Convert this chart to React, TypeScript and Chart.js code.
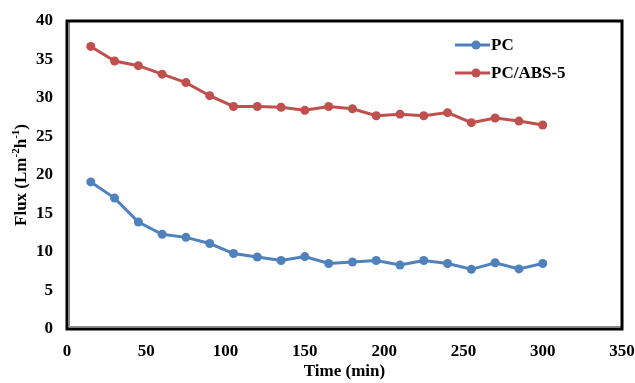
import React, { useEffect, useRef } from "react";
import { Chart, registerables } from "chart.js";

Chart.register(...registerables);

const times = [15, 30, 45, 60, 75, 90, 105, 120, 135, 150, 165, 180, 195, 210, 225, 240, 255, 270, 285, 300];
const pcFlux = [19.1, 17.0, 13.9, 12.3, 11.9, 11.1, 9.8, 9.35, 8.9, 9.4, 8.5, 8.7, 8.9, 8.3, 8.9, 8.5, 7.75, 8.6, 7.8, 8.5];
const pcAbsFlux = [36.7, 34.8, 34.2, 33.1, 32.0, 30.3, 28.9, 28.9, 28.8, 28.4, 28.9, 28.6, 27.7, 27.9, 27.7, 28.1, 26.8, 27.4, 27.0, 26.5];
const seriesNames = ["PC", "PC/ABS-5"];
const seriesColors = ["#4F81BD", "#C0504D"];
const xTitle = "Time (min)";
const yTitleParts = [
  { t: "Flux (Lm", sup: false },
  { t: "-2", sup: true },
  { t: "h", sup: false },
  { t: "-1", sup: true },
  { t: ")", sup: false },
];

const FONT = "'Liberation Serif', 'Times New Roman', serif";

const framePlugin = {
  id: "framePlugin",
  afterDraw(chart: any) {
    const { ctx, chartArea } = chart;
    const { left, top, right, bottom } = chartArea;
    ctx.save();
    // gray inner double line (left & bottom)
    ctx.strokeStyle = "#8a8a8a";
    ctx.lineWidth = 1;
    ctx.beginPath();
    ctx.moveTo(left + 2.5, top + 1);
    ctx.lineTo(left + 2.5, bottom - 2.5);
    ctx.lineTo(right - 1, bottom - 2.5);
    ctx.stroke();
    ctx.strokeStyle = "#000";
    ctx.lineWidth = 3;
    ctx.strokeRect(left, top, right - left, bottom - top);
    ctx.restore();

    // y title with superscripts
    ctx.save();
    const cx = left - 45;
    const cy = (top + bottom) / 2;
    ctx.translate(cx, cy);
    ctx.rotate(-Math.PI / 2);
    const mainFont = `bold 17px ${FONT}`;
    const supFont = `bold 11px ${FONT}`;
    let total = 0;
    const widths = yTitleParts.map((p) => {
      ctx.font = p.sup ? supFont : mainFont;
      const w = ctx.measureText(p.t).width;
      total += w;
      return w;
    });
    let x = -total / 2;
    ctx.fillStyle = "#000";
    ctx.textBaseline = "middle";
    ctx.textAlign = "left";
    yTitleParts.forEach((p, i) => {
      ctx.font = p.sup ? supFont : mainFont;
      ctx.fillText(p.t, x, p.sup ? -6 : 0);
      x += widths[i];
    });
    ctx.restore();

    // legend inside plot area
    ctx.save();
    const lx = right - 167;
    const ly = top + 24;
    chart.data.datasets.forEach((ds: any, i: number) => {
      const y = ly + i * 28;
      ctx.strokeStyle = ds.borderColor;
      ctx.lineWidth = 3;
      ctx.beginPath();
      ctx.moveTo(lx, y);
      ctx.lineTo(lx + 35, y);
      ctx.stroke();
      ctx.fillStyle = ds.backgroundColor;
      ctx.beginPath();
      ctx.arc(lx + 21, y, 4.5, 0, Math.PI * 2);
      ctx.fill();
      ctx.fillStyle = "#000";
      ctx.font = `bold 17px ${FONT}`;
      ctx.textBaseline = "middle";
      ctx.textAlign = "left";
      ctx.fillText(ds.label, lx + 36, y + 1);
    });
    ctx.restore();
  },
};

export default function App() {
  const ref = useRef<HTMLCanvasElement | null>(null);
  useEffect(() => {
    if (!ref.current) return;
    const chart = new Chart(ref.current, {
      type: "line",
      data: {
        datasets: [
          {
            label: seriesNames[0],
            data: times.map((t, i) => ({ x: t, y: pcFlux[i] })),
            borderColor: seriesColors[0],
            backgroundColor: seriesColors[0],
            borderWidth: 3,
            pointRadius: 4.5,
            pointBorderWidth: 0,
            pointBackgroundColor: seriesColors[0],
            tension: 0,
          },
          {
            label: seriesNames[1],
            data: times.map((t, i) => ({ x: t, y: pcAbsFlux[i] })),
            borderColor: seriesColors[1],
            backgroundColor: seriesColors[1],
            borderWidth: 3,
            pointRadius: 4.5,
            pointBorderWidth: 0,
            pointBackgroundColor: seriesColors[1],
            tension: 0,
          },
        ],
      },
      options: {
        animation: false,
        responsive: false,
        maintainAspectRatio: false,
        layout: { padding: { left: 0, top: 21, right: 13, bottom: 0 } },
        plugins: {
          legend: { display: false },
          tooltip: { enabled: false },
        },
        scales: {
          x: {
            type: "linear",
            min: 0,
            max: 350,
            grid: { display: false, drawTicks: false },
            border: { display: false },
            ticks: {
              stepSize: 50,
              padding: 12,
              color: "#000",
              font: { family: FONT, size: 17, weight: "bold" },
            },
            title: {
              display: true,
              text: xTitle,
              color: "#000",
              font: { family: FONT, size: 17, weight: "bold" },
              padding: { top: 0, bottom: 1 },
            },
            afterFit: (s: any) => {
              s.height = 54;
              s.paddingRight = 0;
              s.paddingLeft = 0;
            },
          },
          y: {
            min: 0,
            max: 40,
            grid: { display: false, drawTicks: false },
            border: { display: false },
            ticks: {
              stepSize: 5,
              padding: 14,
              color: "#000",
              font: { family: FONT, size: 17, weight: "bold" },
            },
            afterFit: (s: any) => {
              s.width = 67;
              s.paddingTop = 0;
              s.paddingBottom = 0;
            },
          },
        },
      },
      plugins: [framePlugin],
    });
    return () => chart.destroy();
  }, []);
  return (
    <div style={{ position: "absolute", left: 0, top: 0, width: 635, height: 383, background: "#fff" }}>
      <canvas ref={ref} width={635} height={383} style={{ display: "block" }} />
    </div>
  );
}
